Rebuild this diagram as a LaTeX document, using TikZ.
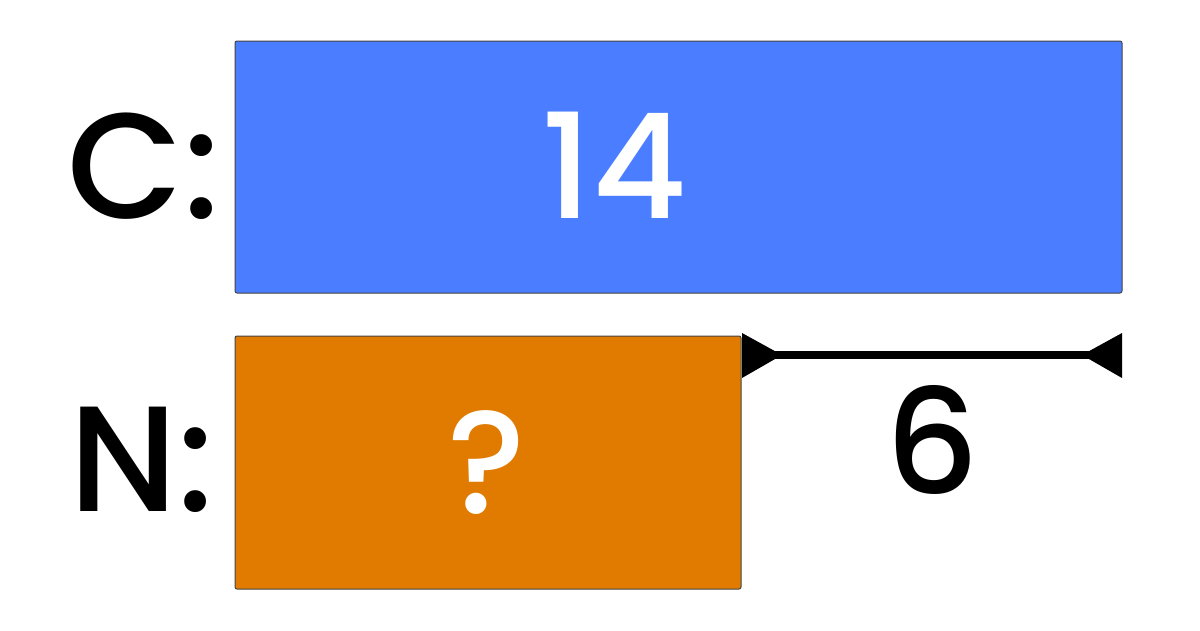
\documentclass[tikz,border=0pt]{standalone}
\usepackage{fontspec}
\setmainfont{Poppins}[UprightFont=* Medium]
\definecolor{cblue}{HTML}{4A7DFF}
\definecolor{corange}{HTML}{E07B00}
\definecolor{cedge}{HTML}{444444}
\begin{document}
\begin{tikzpicture}[x=1pt,y=-1pt,
  bar/.style={draw=cedge,line width=1pt,rounded corners=2pt},
  lab/.style={font=\fontsize{150}{150}\selectfont,text=black,inner sep=0pt},
  num/.style={font=\fontsize{146}{146}\selectfont,inner sep=0pt},
  tri/.style={fill=black}]
\useasboundingbox (0,0) rectangle (1200,630);
\fill[white] (0,0) rectangle (1200,630);
\draw[bar,fill=cblue] (235,41) rectangle (1122,293);
\draw[bar,fill=corange] (235,336) rectangle (741,589);
\node[lab,anchor=center] (cl) at (144,166) {C:};
\node[lab,anchor=center] (nl) at (142,460) {N:};
\node[num,text=white] (v14) at (614,165) {14};
\node[num,text=white] (q) at (487,463) {?};
\node[num,text=black] (v6) at (932,440) {6};
\coordinate (a) at (742,355);
\coordinate (b) at (1122,355);
\draw[line width=7.5pt] ([xshift=30pt]a) -- ([xshift=-30pt]b);
\fill[tri] (742,333) -- (782,355) -- (742,378) -- cycle;
\fill[tri] (1122,333) -- (1082,355) -- (1122,378) -- cycle;
\end{tikzpicture}
\end{document}
